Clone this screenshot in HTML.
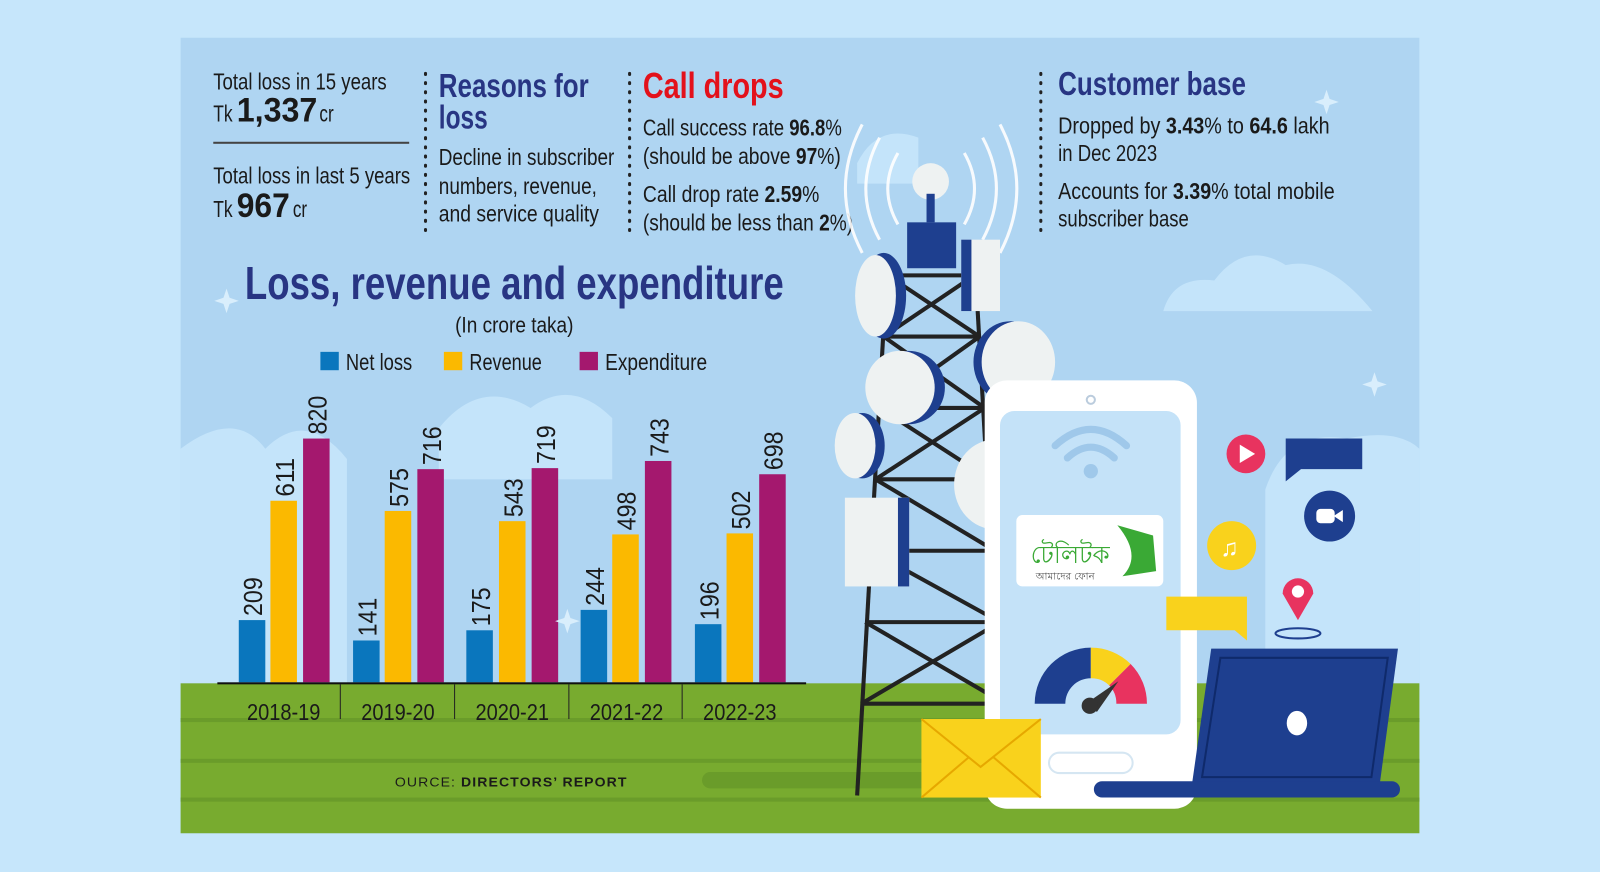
<!DOCTYPE html>
<html><head><meta charset="utf-8"><style>
html,body{margin:0;padding:0;background:#c6e6fb;}
svg{display:block;}
text{font-family:"Liberation Sans Narrow","Liberation Sans",sans-serif;}
</style></head><body>
<svg width="1600" height="872" viewBox="0 0 1568 855" preserveAspectRatio="none" xmlns="http://www.w3.org/2000/svg">
<rect x="0" y="0" width="1568" height="855" fill="#c6e6fb"/>
<rect x="177" y="37" width="1214" height="780" fill="#afd5f2"/>
<!-- clouds -->
<g fill="#c4e4fa">
<path d="M177 440 Q230 400 260 440 Q300 400 340 450 L340 670 L177 670Z"/>
<path d="M430 420 Q470 370 520 400 Q560 370 600 410 L600 470 L430 470Z"/>
<path d="M1140 305 Q1150 270 1190 275 Q1220 235 1260 260 Q1300 250 1345 305Z"/>
<path d="M1240 480 Q1260 420 1320 430 Q1370 420 1391 440 L1391 670 L1240 670Z"/>
<path d="M840 160 Q860 120 900 135 L900 180 L840 180Z"/>
</g>
<!-- grass -->
<rect x="177" y="670" width="1214" height="147" fill="#78ab2f"/>
<g fill="#6a9c2a"><rect x="177" y="704" width="1214" height="4"/><rect x="177" y="744" width="1214" height="4"/><rect x="177" y="782" width="1214" height="4"/></g>
<rect x="688" y="757" width="420" height="16" rx="8" fill="#6a9c2a"/>

<!-- top text -->
<g fill="#1a1a1a" font-size="23">
<text x="209" y="88" textLength="170" lengthAdjust="spacingAndGlyphs">Total loss in 15 years</text>
<text x="209" y="119" textLength="19" lengthAdjust="spacingAndGlyphs">Tk</text>
<text x="232" y="119" font-size="34" font-weight="bold" textLength="79" lengthAdjust="spacingAndGlyphs">1,337</text>
<text x="313" y="119" textLength="14" lengthAdjust="spacingAndGlyphs">cr</text>
<text x="209" y="180" textLength="193" lengthAdjust="spacingAndGlyphs">Total loss in last 5 years</text>
<text x="209" y="213" textLength="19" lengthAdjust="spacingAndGlyphs">Tk</text>
<text x="232" y="213" font-size="34" font-weight="bold" textLength="52" lengthAdjust="spacingAndGlyphs">967</text>
<text x="287" y="213" textLength="14" lengthAdjust="spacingAndGlyphs">cr</text>
<text x="430" y="162" textLength="172" lengthAdjust="spacingAndGlyphs">Decline in subscriber</text>
<text x="430" y="190" textLength="155" lengthAdjust="spacingAndGlyphs">numbers, revenue,</text>
<text x="430" y="217" textLength="157" lengthAdjust="spacingAndGlyphs">and service quality</text>
<text x="630" y="133" textLength="195" lengthAdjust="spacingAndGlyphs">Call success rate <tspan font-weight="bold">96.8</tspan>%</text>
<text x="630" y="161" textLength="194" lengthAdjust="spacingAndGlyphs">(should be above <tspan font-weight="bold">97</tspan>%)</text>
<text x="630" y="198" textLength="173" lengthAdjust="spacingAndGlyphs">Call drop rate <tspan font-weight="bold">2.59</tspan>%</text>
<text x="630" y="226" textLength="206" lengthAdjust="spacingAndGlyphs">(should be less than <tspan font-weight="bold">2</tspan>%)</text>
<text x="1037" y="131" textLength="266" lengthAdjust="spacingAndGlyphs">Dropped by <tspan font-weight="bold">3.43</tspan>% to <tspan font-weight="bold">64.6</tspan> lakh</text>
<text x="1037" y="158" textLength="97" lengthAdjust="spacingAndGlyphs">in Dec 2023</text>
<text x="1037" y="195" textLength="271" lengthAdjust="spacingAndGlyphs">Accounts for <tspan font-weight="bold">3.39</tspan>% total mobile</text>
<text x="1037" y="222" textLength="128" lengthAdjust="spacingAndGlyphs">subscriber base</text>
</g>
<rect x="209" y="139" width="192" height="2" fill="#444"/>
<g stroke="#222" stroke-width="3" stroke-dasharray="1 8" stroke-linecap="round">
<line x1="417" y1="72" x2="417" y2="230"/><line x1="617" y1="72" x2="617" y2="230"/><line x1="1020" y1="72" x2="1020" y2="230"/>
</g>
<g font-weight="bold" font-size="33">
<text x="430" y="95" fill="#283583" textLength="147" lengthAdjust="spacingAndGlyphs">Reasons for</text>
<text x="430" y="126" fill="#283583" textLength="48" lengthAdjust="spacingAndGlyphs">loss</text>
<text x="630" y="96" fill="#e3111b" font-size="35" textLength="138" lengthAdjust="spacingAndGlyphs">Call drops</text>
<text x="1037" y="93" fill="#283583" textLength="184" lengthAdjust="spacingAndGlyphs">Customer base</text>
<text x="240" y="293" fill="#283583" font-size="45" textLength="528" lengthAdjust="spacingAndGlyphs">Loss, revenue and expenditure</text>
</g>
<text x="446" y="326" font-size="22" fill="#1a1a1a" textLength="116" lengthAdjust="spacingAndGlyphs">(In crore taka)</text>
<rect x="314" y="345" width="18" height="18" fill="#0a76bd"/>
<rect x="435" y="345" width="18" height="18" fill="#fbb900"/>
<rect x="568" y="345" width="18" height="18" fill="#a4186e"/>
<g font-size="23" fill="#1a1a1a">
<text x="339" y="363" textLength="65" lengthAdjust="spacingAndGlyphs">Net loss</text>
<text x="460" y="363" textLength="71" lengthAdjust="spacingAndGlyphs">Revenue</text>
<text x="593" y="363" textLength="100" lengthAdjust="spacingAndGlyphs">Expenditure</text>
</g>

<!-- bars -->
<g>
<rect x="234" y="608" width="26" height="61" fill="#0a76bd"/>
<rect x="265" y="491" width="26" height="178" fill="#fbb900"/>
<rect x="297" y="430" width="26" height="239" fill="#a4186e"/>
<rect x="346" y="628" width="26" height="41" fill="#0a76bd"/>
<rect x="377" y="501" width="26" height="168" fill="#fbb900"/>
<rect x="409" y="460" width="26" height="209" fill="#a4186e"/>
<rect x="457" y="618" width="26" height="51" fill="#0a76bd"/>
<rect x="489" y="511" width="26" height="158" fill="#fbb900"/>
<rect x="521" y="459" width="26" height="210" fill="#a4186e"/>
<rect x="569" y="598" width="26" height="71" fill="#0a76bd"/>
<rect x="600" y="524" width="26" height="145" fill="#fbb900"/>
<rect x="632" y="452" width="26" height="217" fill="#a4186e"/>
<rect x="681" y="612" width="26" height="57" fill="#0a76bd"/>
<rect x="712" y="523" width="26" height="146" fill="#fbb900"/>
<rect x="744" y="465" width="26" height="204" fill="#a4186e"/>
</g>
<g font-size="25" fill="#1a1a1a">
<text transform="translate(257,604) rotate(-90)" textLength="38" lengthAdjust="spacingAndGlyphs">209</text>
<text transform="translate(288,487) rotate(-90)" textLength="38" lengthAdjust="spacingAndGlyphs">611</text>
<text transform="translate(320,426) rotate(-90)" textLength="38" lengthAdjust="spacingAndGlyphs">820</text>
<text transform="translate(369,624) rotate(-90)" textLength="38" lengthAdjust="spacingAndGlyphs">141</text>
<text transform="translate(400,497) rotate(-90)" textLength="38" lengthAdjust="spacingAndGlyphs">575</text>
<text transform="translate(432,456) rotate(-90)" textLength="38" lengthAdjust="spacingAndGlyphs">716</text>
<text transform="translate(480,614) rotate(-90)" textLength="38" lengthAdjust="spacingAndGlyphs">175</text>
<text transform="translate(512,507) rotate(-90)" textLength="38" lengthAdjust="spacingAndGlyphs">543</text>
<text transform="translate(544,455) rotate(-90)" textLength="38" lengthAdjust="spacingAndGlyphs">719</text>
<text transform="translate(592,594) rotate(-90)" textLength="38" lengthAdjust="spacingAndGlyphs">244</text>
<text transform="translate(623,520) rotate(-90)" textLength="38" lengthAdjust="spacingAndGlyphs">498</text>
<text transform="translate(655,448) rotate(-90)" textLength="38" lengthAdjust="spacingAndGlyphs">743</text>
<text transform="translate(704,608) rotate(-90)" textLength="38" lengthAdjust="spacingAndGlyphs">196</text>
<text transform="translate(735,519) rotate(-90)" textLength="38" lengthAdjust="spacingAndGlyphs">502</text>
<text transform="translate(767,461) rotate(-90)" textLength="38" lengthAdjust="spacingAndGlyphs">698</text>
</g>
<rect x="213" y="669" width="577" height="2" fill="#111"/>
<g fill="#222"><rect x="333" y="671" width="1" height="34"/><rect x="445" y="671" width="1" height="34"/><rect x="557" y="671" width="1" height="34"/><rect x="668" y="671" width="1" height="34"/></g>
<g font-size="23" fill="#1a1a1a">
<text x="242" y="706" textLength="72" lengthAdjust="spacingAndGlyphs">2018-19</text><text x="354" y="706" textLength="72" lengthAdjust="spacingAndGlyphs">2019-20</text><text x="466" y="706" textLength="72" lengthAdjust="spacingAndGlyphs">2020-21</text><text x="578" y="706" textLength="72" lengthAdjust="spacingAndGlyphs">2021-22</text><text x="689" y="706" textLength="72" lengthAdjust="spacingAndGlyphs">2022-23</text>
</g>
<text x="387" y="771" font-family="Liberation Sans,sans-serif" font-size="13" fill="#1a1a1a" letter-spacing="1" textLength="228" lengthAdjust="spacingAndGlyphs">OURCE: <tspan font-weight="bold">DIRECTORS’ REPORT</tspan></text>

<!-- tower -->
<g stroke="#222" stroke-width="4" fill="none">
<line x1="870" y1="250" x2="840" y2="780"/><line x1="955" y1="250" x2="985" y2="780"/>
<line x1="870" y1="270" x2="955" y2="270"/><line x1="866" y1="330" x2="960" y2="330"/><line x1="862" y1="400" x2="965" y2="400"/>
<line x1="858" y1="470" x2="970" y2="470"/><line x1="853" y1="540" x2="975" y2="540"/><line x1="848" y1="610" x2="980" y2="610"/><line x1="844" y1="690" x2="985" y2="690"/>
<line x1="870" y1="270" x2="960" y2="330"/><line x1="955" y1="270" x2="866" y2="330"/><line x1="866" y1="330" x2="965" y2="400"/><line x1="960" y1="330" x2="862" y2="400"/>
<line x1="862" y1="400" x2="970" y2="470"/><line x1="965" y1="400" x2="858" y2="470"/><line x1="858" y1="470" x2="975" y2="540"/><line x1="853" y1="540" x2="980" y2="610"/><line x1="848" y1="610" x2="985" y2="690"/><line x1="980" y1="610" x2="844" y2="690"/>
</g>
<g fill="none" stroke="#fff" stroke-width="3" opacity="0.9">
<path d="M880 150 Q860 185 880 220"/><path d="M862 135 Q835 185 862 235"/><path d="M845 122 Q812 185 845 248"/>
<path d="M945 150 Q965 185 945 220"/><path d="M963 135 Q990 185 963 235"/><path d="M980 122 Q1013 185 980 248"/>
</g>
<ellipse cx="912" cy="178" rx="18" ry="18" fill="#eef2f2"/>
<rect x="908" y="190" width="8" height="28" fill="#1e3f8f"/>
<rect x="889" y="218" width="48" height="45" fill="#1e3f8f"/>
<rect x="942" y="235" width="38" height="70" fill="#eef2f2"/><rect x="942" y="235" width="10" height="70" fill="#1e3f8f"/>
<g>
<ellipse cx="866" cy="290" rx="22" ry="42" fill="#1e3f8f"/><ellipse cx="858" cy="290" rx="20" ry="40" fill="#eef2f2"/>
<ellipse cx="890" cy="380" rx="36" ry="36" fill="#1e3f8f"/><ellipse cx="882" cy="380" rx="34" ry="36" fill="#eef2f2"/>
<ellipse cx="990" cy="355" rx="36" ry="40" fill="#1e3f8f"/><ellipse cx="998" cy="355" rx="36" ry="40" fill="#eef2f2"/>
<ellipse cx="845" cy="437" rx="22" ry="32" fill="#1e3f8f"/><ellipse cx="838" cy="437" rx="20" ry="32" fill="#eef2f2"/>
<ellipse cx="975" cy="475" rx="40" ry="44" fill="#eef2f2"/>
<rect x="828" y="488" width="63" height="87" fill="#eef2f2"/><rect x="880" y="488" width="11" height="87" fill="#1e3f8f"/>
</g>
<!-- phone -->
<rect x="965" y="373" width="208" height="420" rx="22" fill="#ffffff"/>
<rect x="980" y="403" width="177" height="317" rx="14" fill="#c4e2f8"/>
<circle cx="1069" cy="392" r="4" fill="none" stroke="#bcd" stroke-width="2"/>
<rect x="1028" y="738" width="82" height="20" rx="10" fill="none" stroke="#d5e6f2" stroke-width="2"/>
<g fill="none" stroke="#9fc8ea" stroke-width="7" stroke-linecap="round">
<path d="M1034 437 Q1069 405 1104 437"/><path d="M1046 449 Q1069 428 1092 449"/></g>
<circle cx="1069" cy="462" r="7" fill="#9fc8ea"/>
<rect x="996" y="505" width="144" height="70" rx="6" fill="#ffffff"/>
<text x="1010" y="552" font-family="Liberation Sans,sans-serif" font-size="24" fill="#3aa935">টেলিটক</text>
<text x="1015" y="568" font-family="Liberation Sans,sans-serif" font-size="10" fill="#555">আমাদের ফোন</text>
<path d="M1095 515 L1130 525 L1133 560 L1100 565 Q1120 545 1095 515Z" fill="#3aa935"/>
<!-- gauge -->
<path d="M1014 690 A55 55 0 0 1 1069 635 L1069 665 A25 25 0 0 0 1044 690Z" fill="#1e3f8f"/>
<path d="M1069 635 A55 55 0 0 1 1108 651 L1087 672 A25 25 0 0 0 1069 665Z" fill="#f9d21c"/>
<path d="M1108 651 A55 55 0 0 1 1124 690 L1094 690 A25 25 0 0 0 1087 672Z" fill="#e8335f"/>
<path d="M1064 690 L1096 668 L1075 698Z" fill="#333"/><circle cx="1068" cy="692" r="8" fill="#333"/>
<!-- envelope -->
<rect x="903" y="705" width="117" height="77" fill="#f9d21c"/>
<path d="M903 705 L961 752 L1020 705" fill="none" stroke="#e6a800" stroke-width="2"/>
<path d="M903 782 L950 742 M1020 782 L973 742" stroke="#e6a800" stroke-width="2"/>
<!-- laptop -->
<path d="M1187 636 L1370 636 L1352 770 L1168 770Z" fill="#1e3f8f"/>
<path d="M1196 645 L1360 645 L1344 762 L1178 762Z" fill="none" stroke="#0f2a6b" stroke-width="2"/>
<ellipse cx="1271" cy="709" rx="10" ry="12" fill="#fff"/>
<rect x="1072" y="766" width="300" height="16" rx="8" fill="#1e3f8f"/>
<!-- icons -->
<circle cx="1221" cy="445" r="19" fill="#e8335f"/><path d="M1215 436 L1230 445 L1215 454Z" fill="#fff"/>
<path d="M1260 430 L1335 430 L1335 460 L1275 460 L1260 472Z" fill="#1e3f8f"/>
<circle cx="1303" cy="506" r="25" fill="#1e3f8f"/><rect x="1290" y="499" width="18" height="14" rx="4" fill="#fff"/><path d="M1307 506 L1316 500 L1316 512Z" fill="#fff"/>
<circle cx="1207" cy="535" r="24" fill="#f9d21c"/><text x="1196" y="545" font-family="DejaVu Sans,sans-serif" font-size="24" fill="#fff">♫</text>
<path d="M1143 585 L1222 585 L1222 628 L1210 618 L1143 618Z" fill="#f9d21c"/>
<path d="M1257 582 A15 15 0 1 1 1287 582 L1272 608Z" fill="#e8335f"/><circle cx="1272" cy="580" r="6" fill="#fff"/>
<ellipse cx="1272" cy="621" rx="22" ry="5" fill="none" stroke="#1e3f8f" stroke-width="2"/>
<g fill="#d9eefc"><path d="M222 283 l3 9 l9 3 l-9 3 l-3 9 l-3 -9 l-9 -3 l9 -3Z"/><path d="M1300 88 l3 9 l9 3 l-9 3 l-3 9 l-3 -9 l-9 -3 l9 -3Z"/><path d="M1347 365 l3 9 l9 3 l-9 3 l-3 9 l-3 -9 l-9 -3 l9 -3Z"/><path d="M556 597 l3 9 l9 3 l-9 3 l-3 9 l-3 -9 l-9 -3 l9 -3Z"/></g>
</svg>
</body></html>
